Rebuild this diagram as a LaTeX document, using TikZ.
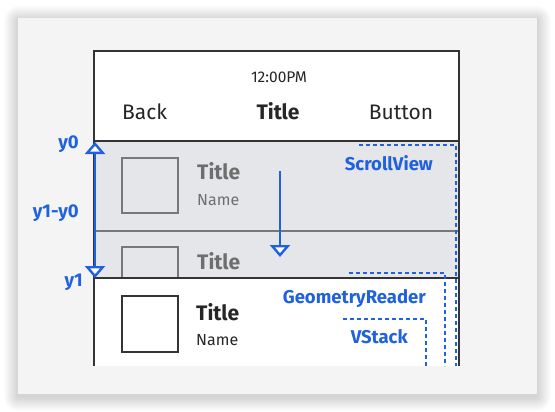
\documentclass[tikz,border=0pt]{standalone}
\usepackage{fontspec}
\setmainfont{Fira Sans}
\usepackage{tikz}
\usetikzlibrary{arrows.meta,backgrounds,positioning}
\definecolor{lblue}{RGB}{31,97,222}
\definecolor{panel}{RGB}{244,244,244}
\definecolor{scrollgray}{RGB}{229,230,234}
\definecolor{frame}{RGB}{52,52,52}
\definecolor{itemgray}{RGB}{120,120,120}
\definecolor{textgray}{RGB}{110,110,110}
\tikzset{
  frameline/.style={line width=2pt,color=frame},
  guide/.style={line width=2pt,color=lblue,dash pattern=on 4pt off 3pt},
  lbl/.style={font=\bfseries\fontsize{18.5}{20}\selectfont,color=lblue,anchor=base east,inner sep=0pt},
  bar/.style={font=\fontsize{21}{23}\selectfont,color=black!85,anchor=base,inner sep=0pt},
  rowtitle/.style={font=\bfseries\fontsize{21}{23}\selectfont,anchor=base west,inner sep=0pt},
  rowname/.style={font=\fontsize{16}{18}\selectfont,anchor=base west,inner sep=0pt},
  openhead/.style={-{Triangle[width=20pt,length=12pt,fill=white,line width=2.4pt]}},
  twohead/.style={{Triangle[width=20pt,length=12pt,fill=white,line width=2.4pt]}-{Triangle[width=20pt,length=12pt,fill=white,line width=2.4pt]}}
}
\begin{document}
\begin{tikzpicture}[x=1pt,y=-1pt]
\useasboundingbox (0,0) rectangle (555,412);
\foreach \i in {1,...,14}
  \fill[black,opacity=0.01,rounded corners=\i pt] (18-\i,18-\i+2) rectangle (537+\i,394+\i+3);
\fill[panel] (18,18) rectangle (537,394);
\fill[white] (94,51) rectangle (459,366);
\fill[scrollgray] (94,141) rectangle (459,278);
\draw[line width=2pt,color=itemgray] (94,231) -- (459,231);
\draw[line width=2pt,color=itemgray] (122,158) rectangle (178,213);
\draw[line width=2pt,color=itemgray] (122,278) -- (122,247) -- (178,247) -- (178,278);
\draw[line width=2pt,color=frame] (122,296) rectangle (178,352);
\draw[frameline] (94,141) -- (459,141);
\draw[frameline] (94,278) -- (459,278);
\draw[frameline] (94,366) -- (94,51) -- (459,51) -- (459,366);
\node[font=\fontsize{15.5}{17}\selectfont,color=black!85,anchor=base,inner sep=0pt] (clock) at (279,83) {12:00PM};
\node[bar,anchor=base west] (back) at (122,120) {Back};
\node[bar,font=\bfseries\fontsize{21}{23}\selectfont] (bartitle) at (278,120) {Title};
\node[bar] (button) at (401,120) {Button};
\node[rowtitle,color=textgray] (title1) at (197,179) {Title};
\node[rowname,color=textgray] (name1) at (197,205) {Name};
\node[rowtitle,color=textgray] (title2) at (197,269) {Title};
\node[rowtitle,color=black!85] (title3) at (196,320) {Title};
\node[rowname,color=black!85] (name3) at (196,345) {Name};
\coordinate (y0pt) at (95,142);
\coordinate (y1pt) at (95,278);
\draw[line width=2pt,color=lblue,twohead] (y0pt) -- (y1pt);
\coordinate (scrollstart) at (280,171);
\coordinate (scrollend) at (280,257);
\draw[line width=2pt,color=lblue,openhead] (scrollstart) -- (scrollend);
\node[lbl] (y0) at (79,149) {y0};
\node[lbl] (y1y0) at (79,217) {y1-y0};
\node[lbl] (y1) at (83,286) {y1};
\node[lbl] (scroll) at (433,171) {ScrollView};
\node[lbl] (geo) at (426,303) {GeometryReader};
\node[lbl] (vstack) at (408,343) {VStack};
\draw[guide] (359,145) -- (456,145) -- (456,366);
\draw[guide] (349,273) -- (445,273) -- (445,366);
\draw[guide] (343,319) -- (426,319) -- (426,366);
\end{tikzpicture}
\end{document}
